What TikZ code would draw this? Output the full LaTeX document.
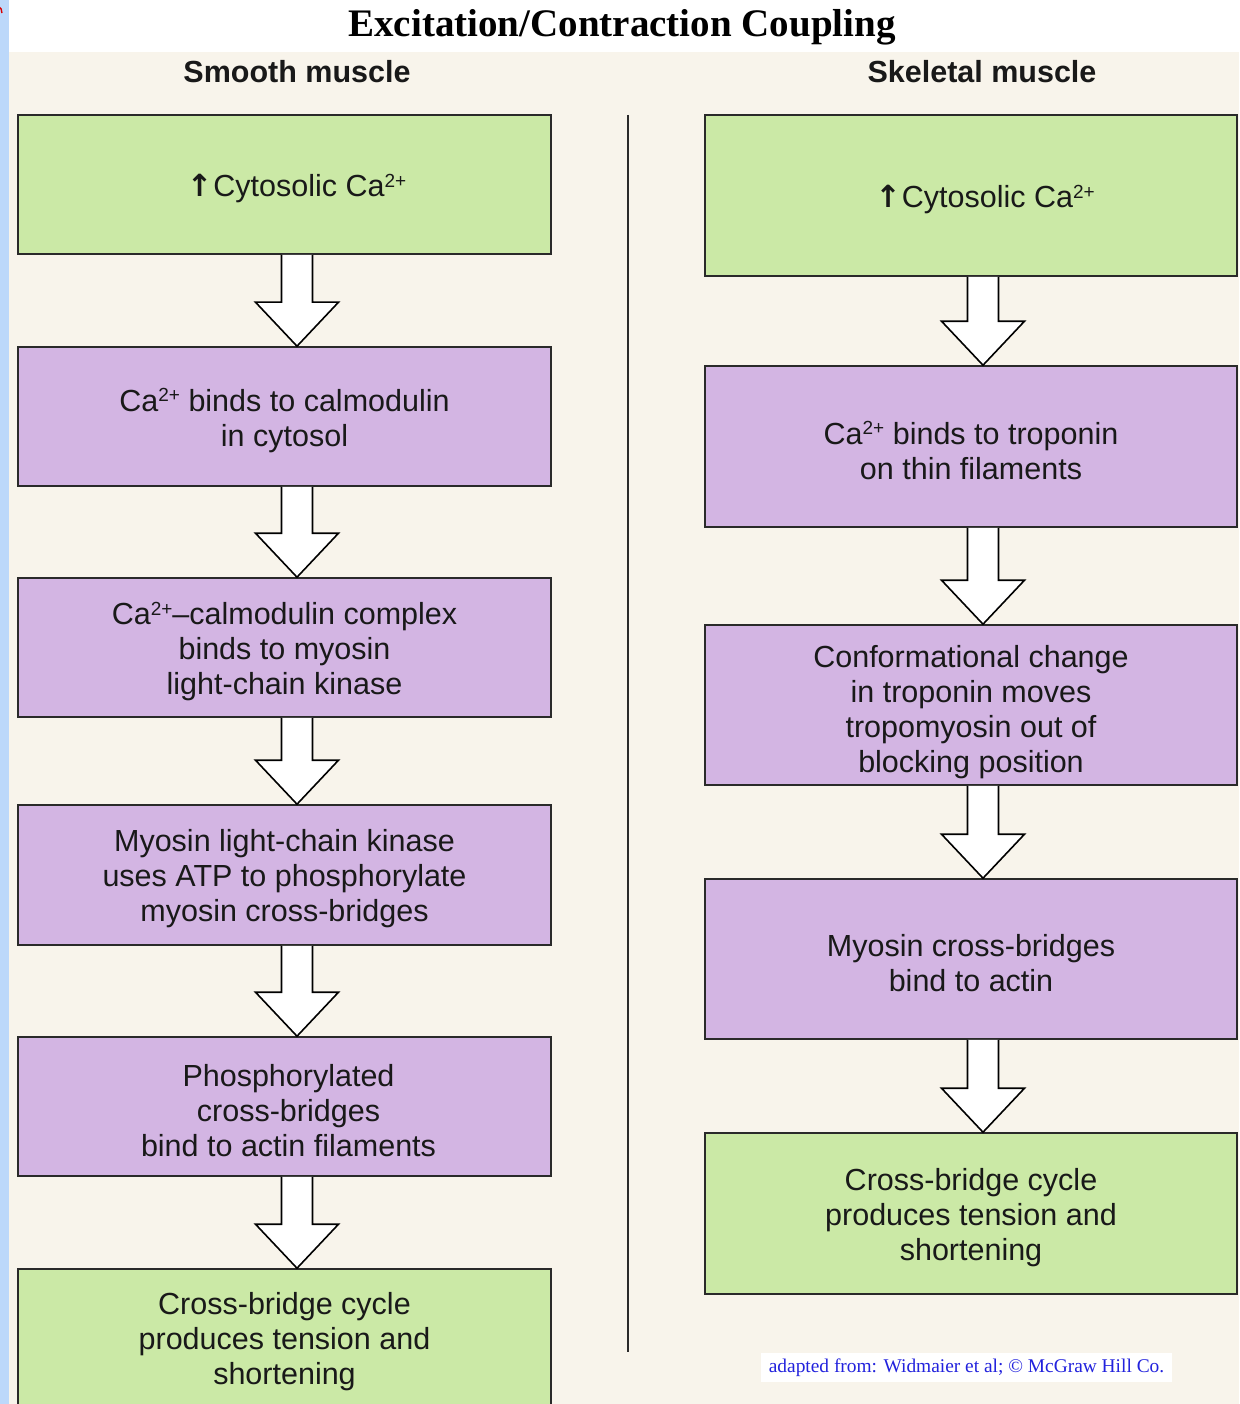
\documentclass[tikz,border=0pt]{standalone}
\usepackage{fontspec}
\setmainfont{Liberation Sans}
\newfontfamily\titlefont{Liberation Serif}
\newfontfamily\arrfont{DejaVu Sans}
\usetikzlibrary{calc}
\definecolor{boxgreen}{HTML}{CBE9A6}
\definecolor{boxpurple}{HTML}{D3B5E3}
\definecolor{bgbeige}{HTML}{F8F4EB}
\definecolor{stripblue}{HTML}{BCD8FA}
\definecolor{edgegray}{HTML}{2A2A2A}
\definecolor{credblue}{HTML}{2222DD}
\newcommand\sq{\raisebox{0.3em}{\fontsize{19}{19}\selectfont 2+}}
\newcommand\upa{{\arrfont\bfseries ↑}\hspace{1pt}}
\tikzset{
  stepbox/.style={draw=edgegray, line width=1.6pt, inner sep=0pt},
  lbl/.style={align=center, font=\fontsize{30.5}{35}\selectfont, text=black!90, yshift=-4pt, inner sep=0pt},
  lbox/.style={stepbox, minimum width=533pt},
  rbox/.style={stepbox, minimum width=532pt},
  barrow/.style={draw=black, fill=white, line width=1.6pt, line join=miter},
  hdr/.style={font=\fontsize{30.5}{35}\selectfont\bfseries, text=black!90}
}
\newcommand\blockarr[3]{%
  \draw[barrow] let \p1=([xshift=#3]#1.south), \p2=([xshift=#3]#2.north) in
    (\x1-15.5pt,\y1) -- (\x1-15.5pt,\y2+44pt) -- (\x1-41.5pt,\y2+44pt) -- (\x2,\y2)
    -- (\x1+41.5pt,\y2+44pt) -- (\x1+15.5pt,\y2+44pt) -- (\x1+15.5pt,\y1);}
\begin{document}
\begin{tikzpicture}[x=1pt,y=-1pt]
\useasboundingbox (0,0) rectangle (1239,1404);
\fill[white] (0,0) rectangle (1239,1404);
\fill[bgbeige] (9,52) rectangle (1239,1404);
\fill[stripblue] (0,0) rectangle (9,1404);
\draw[red!85!black, line width=1.4pt] (-4,6) arc (-90:10:6);
% title and headers
\node[font=\titlefont\fontsize{39}{44}\selectfont\bfseries] (title) at (622,27) {Excitation/Contraction Coupling};
\node[hdr] (hl) at (297,72) {Smooth muscle};
\node[hdr] (hr) at (982,72) {Skeletal muscle};
% left column
\node[lbox, fill=boxgreen, minimum height=139pt, label={[lbl, xshift=12pt]center:\upa Cytosolic Ca\sq}] (l1) at (284.5,184.5) {};
\node[lbox, fill=boxpurple, minimum height=139pt, label={[lbl]center:Ca\sq{} binds to calmodulin\\in cytosol}] (l2) at (284.5,416.5) {};
\node[lbox, fill=boxpurple, minimum height=139pt, label={[lbl]center:Ca\sq–calmodulin complex\\binds to myosin\\light-chain kinase}] (l3) at (284.5,647.5) {};
\node[lbox, fill=boxpurple, minimum height=140pt, label={[lbl]center:Myosin light-chain kinase\\uses ATP to phosphorylate\\myosin cross-bridges}] (l4) at (284.5,875) {};
\node[lbox, fill=boxpurple, minimum height=139pt, label={[lbl, xshift=4pt]center:Phosphorylated\\cross-bridges\\bind to actin filaments}] (l5) at (284.5,1106.5) {};
\node[lbox, fill=boxgreen, minimum height=137pt, label={[lbl]center:Cross-bridge cycle\\produces tension and\\shortening}] (l6) at (284.5,1337.5) {};
% right column
\node[rbox, fill=boxgreen, minimum height=161pt, label={[lbl, xshift=14pt]center:\upa Cytosolic Ca\sq}] (r1) at (971,195.5) {};
\node[rbox, fill=boxpurple, minimum height=161pt, label={[lbl]center:Ca\sq{} binds to troponin\\on thin filaments}] (r2) at (971,446.5) {};
\node[rbox, fill=boxpurple, minimum height=160pt, label={[lbl, yshift=-3pt]center:Conformational change\\in troponin moves\\tropomyosin out of\\blocking position}] (r3) at (971,705) {};
\node[rbox, fill=boxpurple, minimum height=160pt, label={[lbl]center:Myosin cross-bridges\\bind to actin}] (r4) at (971,959) {};
\node[rbox, fill=boxgreen, minimum height=161pt, label={[lbl]center:Cross-bridge cycle\\produces tension and\\shortening}] (r5) at (971,1213.5) {};
% arrows
\blockarr{l1}{l2}{12.5pt}
\blockarr{l2}{l3}{12.5pt}
\blockarr{l3}{l4}{12.5pt}
\blockarr{l4}{l5}{12.5pt}
\blockarr{l5}{l6}{12.5pt}
\blockarr{r1}{r2}{12pt}
\blockarr{r2}{r3}{12pt}
\blockarr{r3}{r4}{12pt}
\blockarr{r4}{r5}{12pt}
% divider
\coordinate (dtop) at (628,115);
\coordinate (dbot) at (628,1352);
\draw[edgegray, line width=2.6pt] (dtop) -- (dbot);
% credit
\node[fill=white, inner xsep=8pt, inner ysep=4pt, minimum height=29pt, text=credblue,
  font=\titlefont\fontsize{19.4}{22}\selectfont] (credit) at (966.5,1367.5)
  {adapted from: Widmaier et al; © McGraw Hill Co.};
\end{tikzpicture}
\end{document}
